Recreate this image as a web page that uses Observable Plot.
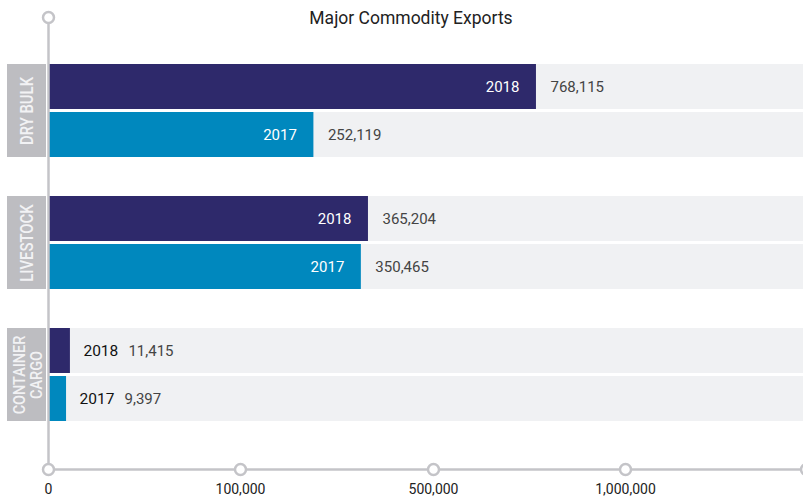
<!DOCTYPE html>
<html>
<head>
<meta charset="utf-8">
<script src="https://cdn.jsdelivr.net/npm/d3@7"></script>
<script src="https://cdn.jsdelivr.net/npm/@observablehq/plot@0.6"></script>
<style>
  html, body { margin: 0; padding: 0; background: #ffffff; }
  #chart svg { display: block; }
</style>
</head>
<body>
<div id="chart"></div>
<script>
// ---- data ----
const categories = ["DRY BULK", "LIVESTOCK", "CONTAINER CARGO"];
const categoryLabels = ["DRY BULK", "LIVESTOCK", "CONTAINER\nCARGO"];
const years = [2018, 2017];
const values2018 = [768115, 365204, 11415];
const values2017 = [252119, 350465, 9397];
const tickValues = [0, 100000, 500000, 1000000, 1500000];
const tickLabels = ["0", "100,000", "500,000", "1,000,000", ""];

// ---- build table ----
const rows = [];
categories.forEach((c, i) => {
  rows.push({cat: c, year: years[0], value: values2018[i]});
  rows.push({cat: c, year: years[1], value: values2017[i]});
});
const xMax = tickValues[tickValues.length - 1];
const fmt = d3.format(",");

const navy = "#2e296b";
const blue = "#0088be";
const light = "#f0f1f3";
const boxGray = "#bdbdc1";
const axisGray = "#c4c4c8";

function yearMarks(year, fill, inset, dy) {
  const data = rows.filter(d => d.year === year);
  const big = data.filter(d => d.value >= 100000);
  const small = data.filter(d => d.value < 100000);
  return [
    Plot.barX(data, {x1: 0, x2: xMax, y: "cat", fill: light, ...inset}),
    Plot.barX(data, {x1: 0, x2: "value", y: "cat", fill, ...inset}),
    Plot.text(big, {x: "value", y: "cat", text: d => String(d.year), dy, dx: -17, textAnchor: "end", fill: "#ffffff", fontSize: 15}),
    Plot.text(big, {x: "value", y: "cat", text: d => fmt(d.value), dy, dx: 14, textAnchor: "start", fill: "#444444", fontSize: 15}),
    Plot.text(small, {x: "value", y: "cat", text: d => String(d.year), dy, dx: 13, textAnchor: "start", fill: "#111111", fontSize: 15.5}),
    Plot.text(small, {x: "value", y: "cat", text: d => fmt(d.value), dy, dx: 58, textAnchor: "start", fill: "#444444", fontSize: 15})
  ];
}

const labelIdx = new Map(categories.map((c, i) => [c, categoryLabels[i]]));

const chart = Plot.plot({
  width: 803,
  height: 501,
  marginTop: 17,
  marginBottom: 32,
  marginLeft: 48,
  marginRight: 0,
  style: {fontFamily: "Roboto, 'Noto Sans', sans-serif", fontSize: "15px", background: "#ffffff"},
  x: {type: "linear", domain: tickValues, range: [48, 240, 433, 625, 806], axis: null},
  y: {type: "band", domain: categories, range: [64, 421], paddingInner: 0.2955, paddingOuter: 0, round: false, axis: null},
  marks: [
    ...yearMarks(2018, navy, {insetBottom: 48}, -24),
    ...yearMarks(2017, blue, {insetTop: 48}, 24),
    // category boxes left of the axis
    Plot.barX(categories, {y: d => d, x1: 0, x2: 0, insetLeft: -41, insetRight: 2, fill: boxGray}),
    Plot.text(categories.filter(c => !labelIdx.get(c).includes("\n")), {
      y: d => d, x: 0, dx: -21, rotate: -90, text: d => labelIdx.get(d),
      fill: "#f2f2f4", fontSize: 17.5, fontWeight: 500, fontFamily: "Roboto, sans-serif"
    }),
    Plot.text(categories.filter(c => labelIdx.get(c).includes("\n")), {
      y: d => d, x: 0, dx: -20, rotate: -90, text: d => labelIdx.get(d), lineHeight: 1.0,
      fill: "#f2f2f4", fontSize: 17, fontWeight: 500, fontFamily: "Roboto, sans-serif"
    }),
    // axes
    Plot.ruleX([0], {stroke: axisGray, strokeWidth: 2.5}),
    Plot.frame({anchor: "bottom", stroke: axisGray, strokeWidth: 2.5}),
    Plot.dot(tickValues, {x: d => d, frameAnchor: "bottom", r: 5.5, fill: "#ffffff", stroke: axisGray, strokeWidth: 2.5}),
    Plot.dot([0], {x: d => d, frameAnchor: "top", r: 5.5, fill: "#ffffff", stroke: axisGray, strokeWidth: 2.5}),
    Plot.axisX({ticks: tickValues, tickFormat: (d) => tickLabels[tickValues.indexOf(d)], tickSize: 0, tickPadding: 15, fontSize: 14, color: "#222222", label: null}),
    // title
    Plot.text(["Major Commodity Exports"], {frameAnchor: "top", lineAnchor: "middle", dx: -15, dy: 1, text: d => d, fontSize: 17.5, fontWeight: 400, fill: "#222222"})
  ]
});
// condense the rotated category labels
d3.select(chart).selectAll("text").each(function() {
  const t = this.getAttribute("transform");
  if (t && t.includes("rotate(-90)")) this.setAttribute("transform", t + " scale(0.85,1)");
});
document.getElementById("chart").appendChild(chart);
</script>
</body>
</html>
